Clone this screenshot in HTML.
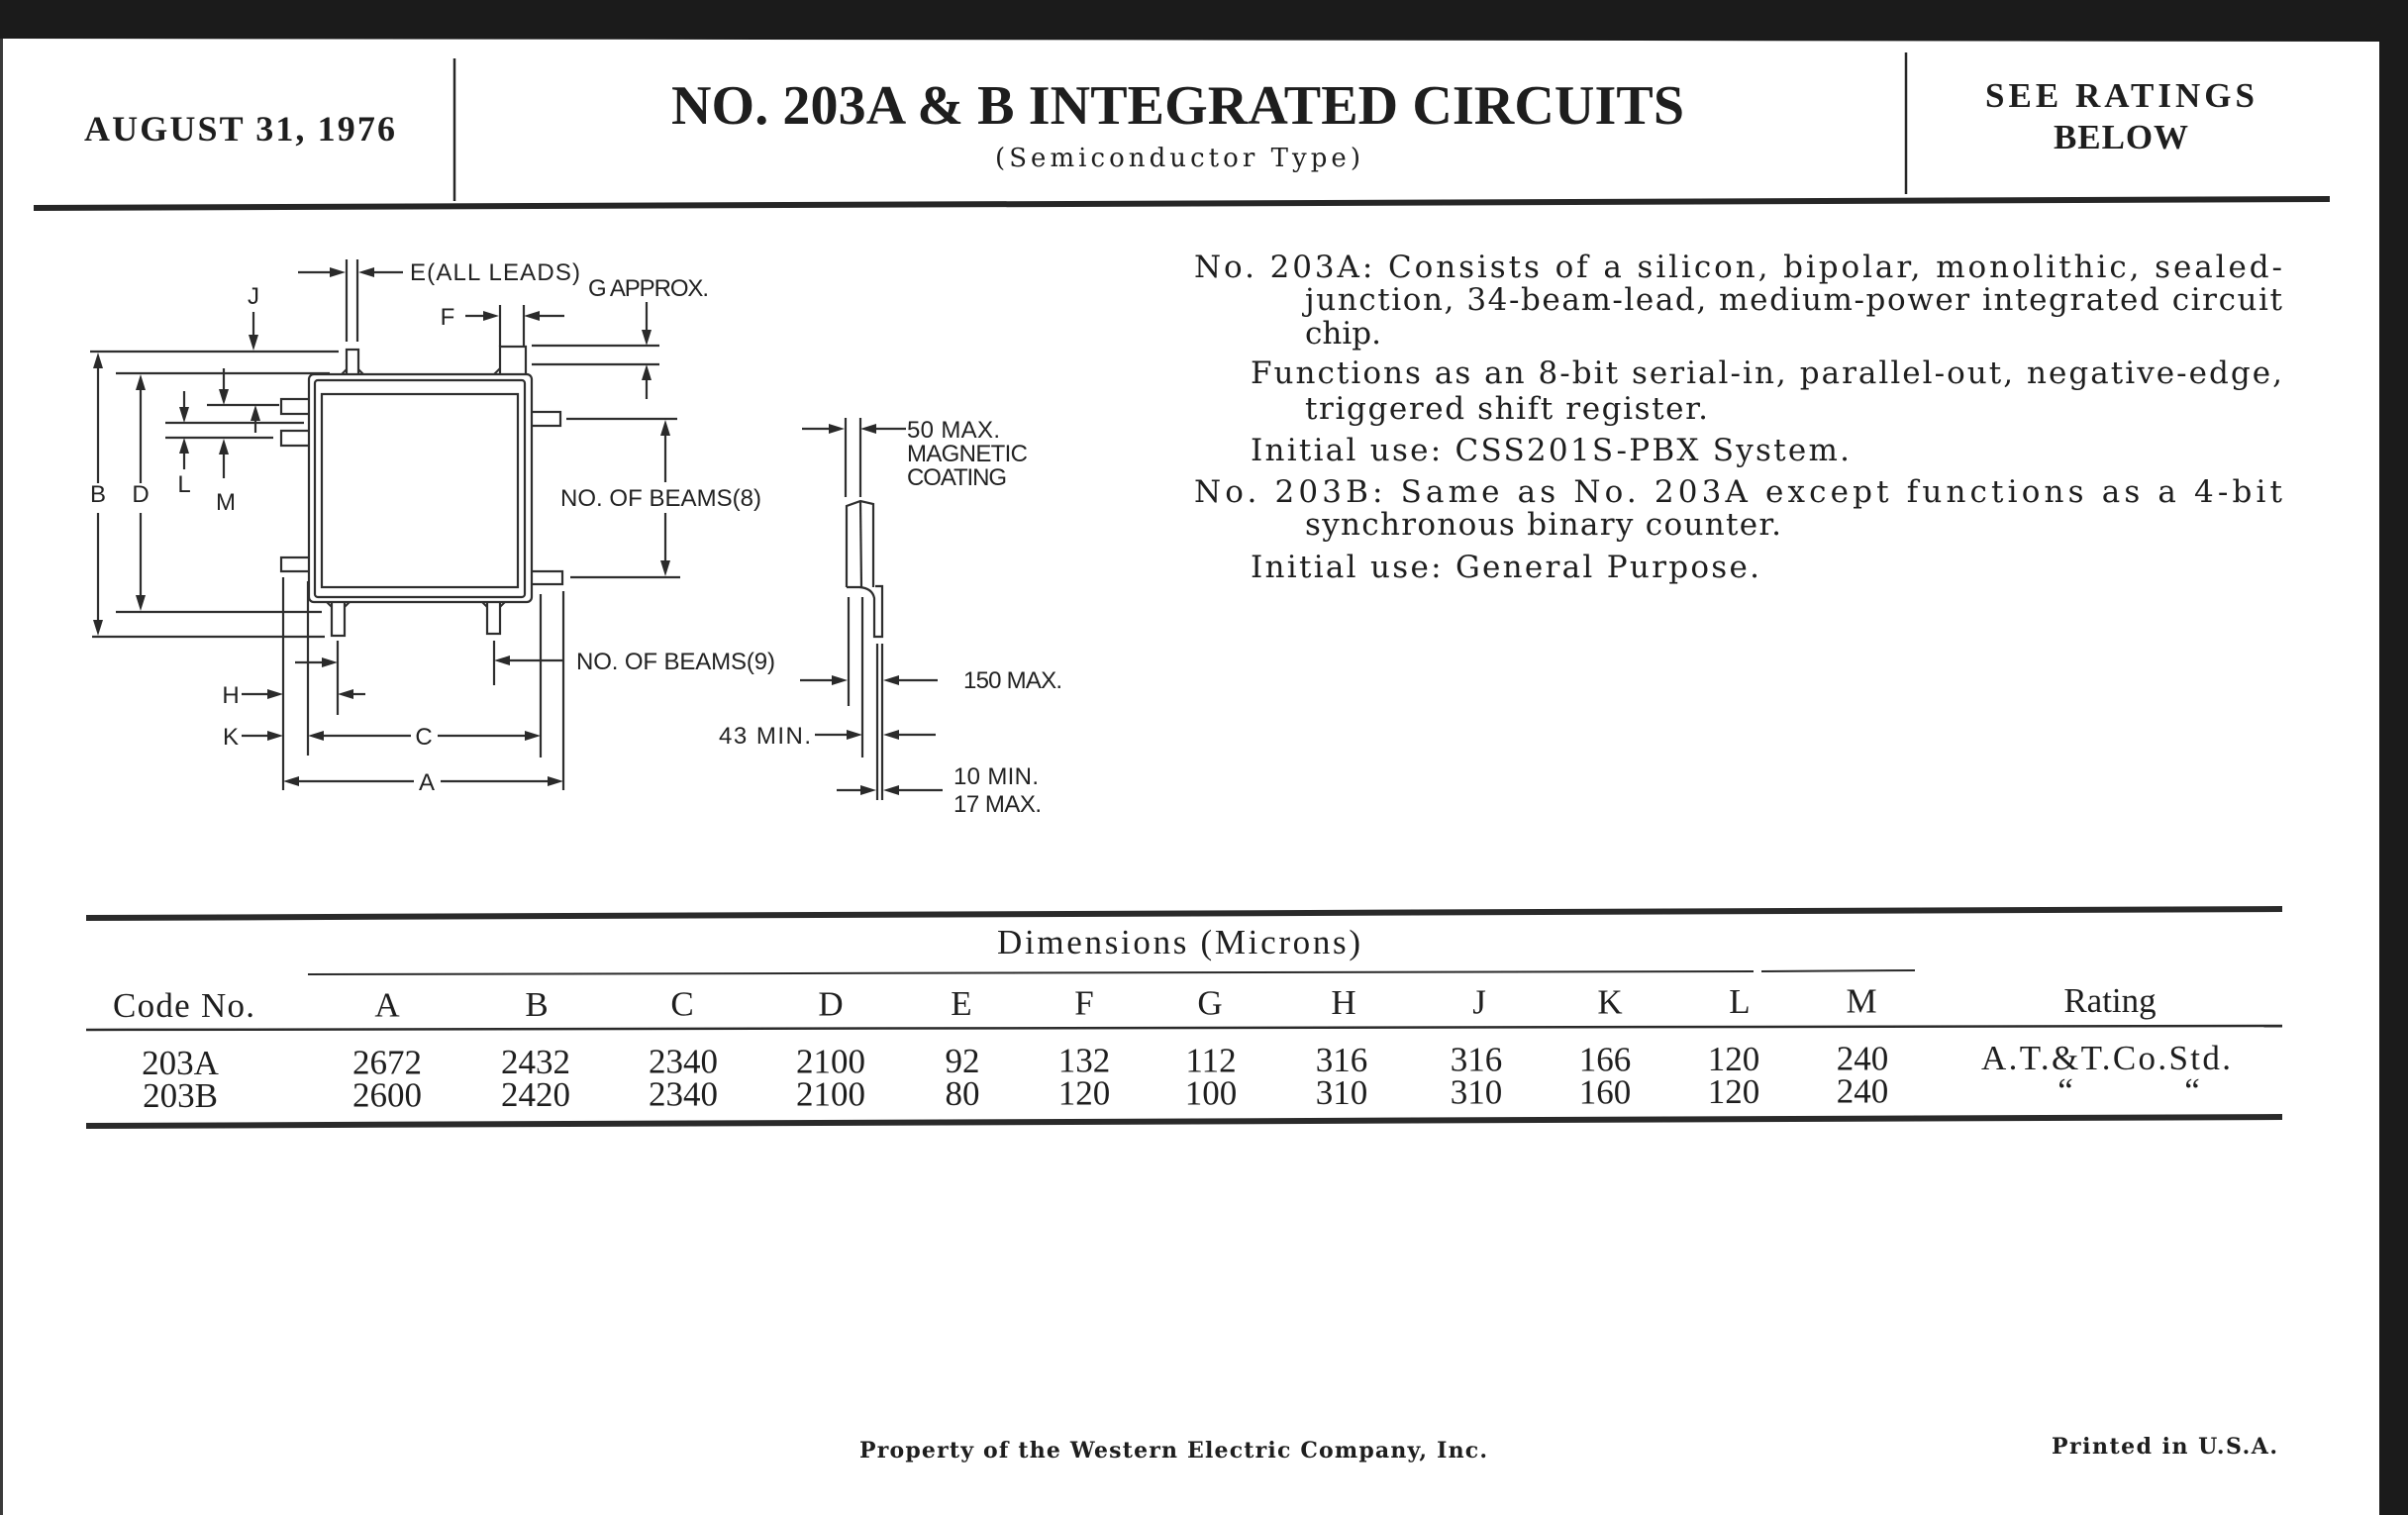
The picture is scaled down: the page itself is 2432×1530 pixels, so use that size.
<!DOCTYPE html>
<html>
<head>
<meta charset="utf-8">
<style>
html,body{margin:0;padding:0;width:2432px;height:1530px;overflow:hidden;background:#1b1b1b}
svg{display:block}
.serif{font-family:"Liberation Serif","DejaVu Serif",serif;fill:#1e1e1e}
.dserif{font-family:"DejaVu Serif","Liberation Serif",serif;fill:#1e1e1e}
.sans{font-family:"Liberation Sans","DejaVu Sans",sans-serif;fill:#222;font-size:24px}
.pre{white-space:pre}
</style>
</head>
<body>
<svg width="2432" height="1530" viewBox="0 0 2432 1530" xmlns="http://www.w3.org/2000/svg">
  <!-- background / page -->
  <rect x="0" y="0" width="2432" height="1530" fill="#1b1b1b"/>
  <polygon points="3,39 2403,42 2403,1530 3,1530" fill="#ffffff"/>
  <rect x="0" y="39" width="3" height="1491" fill="#3a3a3a"/>

  <!-- ================= HEADER ================= -->
  <g class="serif" font-weight="bold">
    <text x="85" y="142" font-size="36" textLength="314" lengthAdjust="spacing">AUGUST 31, 1976</text>
    <text x="678" y="125" font-size="56" textLength="1023" lengthAdjust="spacing">NO. 203A &amp; B INTEGRATED CIRCUITS</text>
    <text x="2005" y="108" font-size="35" textLength="272" lengthAdjust="spacing">SEE RATINGS</text>
    <text x="2074" y="150" font-size="35" textLength="136" lengthAdjust="spacing">BELOW</text>
  </g>
  <text class="dserif" x="1005" y="168" font-size="26" textLength="369" lengthAdjust="spacing">(Semiconductor Type)</text>
  <g stroke="#262626" fill="none">
    <line x1="459" y1="59" x2="459" y2="203" stroke-width="2.5"/>
    <line x1="1925" y1="53" x2="1925" y2="196" stroke-width="2.5"/>
    <line x1="34" y1="210" x2="2353" y2="201" stroke-width="6"/>
  </g>

  <!-- ================= DIAGRAM ================= -->
  <g stroke="#2e2e2e" stroke-width="2.2" fill="#fff">
    <rect x="350" y="353" width="12" height="28"/>
    <rect x="505" y="350" width="26" height="30"/>
    <rect x="284" y="403" width="31" height="15"/>
    <rect x="284" y="435" width="31" height="15"/>
    <rect x="284" y="563" width="31" height="14"/>
    <rect x="533" y="416" width="33" height="14"/>
    <rect x="533" y="577" width="35" height="13"/>
    <rect x="335" y="605" width="13" height="37"/>
    <rect x="492" y="605" width="13" height="35"/>
    <rect x="312" y="378" width="225" height="230" rx="5"/>
    <rect x="318" y="384" width="212" height="219" rx="3"/>
    <rect x="325" y="398" width="198" height="195"/>
  </g>
  <g stroke="#2e2e2e" stroke-width="2" fill="none">
    <path d="M345,378 L350,373 M362,373 L367,378"/>
    <path d="M499,378 L505,372 M531,372 L531,378"/>
    <path d="M330,608 L335,613 M348,613 L353,608"/>
    <path d="M487,608 L492,613 M505,613 L510,608"/>
  </g>

  <g stroke="#2e2e2e" stroke-width="2.2" fill="none">
    <line x1="91" y1="355" x2="342" y2="355"/>
    <line x1="93" y1="643" x2="328" y2="643"/>
    <line x1="99" y1="370" x2="99" y2="488"/>
    <line x1="99" y1="518" x2="99" y2="628"/>
    <line x1="117" y1="377" x2="333" y2="377"/>
    <line x1="117" y1="618" x2="325" y2="618"/>
    <line x1="142" y1="392" x2="142" y2="488"/>
    <line x1="142" y1="518" x2="142" y2="603"/>
    <line x1="256" y1="315" x2="256" y2="340"/>
    <line x1="209" y1="409" x2="282" y2="409"/>
    <line x1="167" y1="427" x2="307" y2="427"/>
    <line x1="167" y1="442" x2="276" y2="442"/>
    <line x1="226" y1="372" x2="226" y2="395"/>
    <line x1="258" y1="423" x2="258" y2="437"/>
    <line x1="186" y1="395" x2="186" y2="413"/>
    <line x1="186" y1="456" x2="186" y2="474"/>
    <line x1="226" y1="457" x2="226" y2="483"/>
    <line x1="350" y1="262" x2="350" y2="345"/>
    <line x1="361" y1="262" x2="361" y2="345"/>
    <line x1="301" y1="275" x2="335" y2="275"/>
    <line x1="376" y1="275" x2="407" y2="275"/>
    <line x1="653" y1="305" x2="653" y2="335"/>
    <line x1="537" y1="349" x2="666" y2="349"/>
    <line x1="537" y1="368" x2="666" y2="368"/>
    <line x1="653" y1="382" x2="653" y2="403"/>
    <line x1="470" y1="319" x2="490" y2="319"/>
    <line x1="505" y1="308" x2="505" y2="350"/>
    <line x1="529" y1="308" x2="529" y2="350"/>
    <line x1="543" y1="319" x2="570" y2="319"/>
    <line x1="572" y1="423" x2="684" y2="423"/>
    <line x1="576" y1="583" x2="687" y2="583"/>
    <line x1="672" y1="438" x2="672" y2="487"/>
    <line x1="672" y1="518" x2="672" y2="568"/>
    <line x1="286" y1="583" x2="286" y2="798"/>
    <line x1="311" y1="587" x2="311" y2="763"/>
    <line x1="341" y1="647" x2="341" y2="722"/>
    <line x1="499" y1="647" x2="499" y2="692"/>
    <line x1="546" y1="600" x2="546" y2="765"/>
    <line x1="569" y1="597" x2="569" y2="798"/>
    <line x1="513" y1="667" x2="569" y2="667"/>
    <line x1="298" y1="669" x2="327" y2="669"/>
    <line x1="244" y1="701" x2="272" y2="701"/>
    <line x1="355" y1="701" x2="369" y2="701"/>
    <line x1="244" y1="743" x2="272" y2="743"/>
    <line x1="325" y1="743" x2="415" y2="743"/>
    <line x1="442" y1="743" x2="532" y2="743"/>
    <line x1="300" y1="789" x2="418" y2="789"/>
    <line x1="445" y1="789" x2="555" y2="789"/>
    <line x1="810" y1="433" x2="839" y2="433"/>
    <line x1="883" y1="433" x2="915" y2="433"/>
    <line x1="854" y1="422" x2="854" y2="502"/>
    <line x1="869" y1="422" x2="869" y2="502"/>
    <path d="M855,593 L855,511 L869,506 L882,509 L882,593"/>
    <path d="M869,506 L870,593"/>
    <path d="M855,593 L868,593 Q881,594 883,604 L883,643 L891,643 L891,592 L884,592"/>
    <line x1="857" y1="603" x2="857" y2="713"/>
    <line x1="871" y1="603" x2="871" y2="765"/>
    <line x1="886" y1="650" x2="886" y2="808"/>
    <line x1="891" y1="650" x2="891" y2="808"/>
    <line x1="808" y1="687" x2="842" y2="687"/>
    <line x1="906" y1="687" x2="947" y2="687"/>
    <line x1="823" y1="742" x2="857" y2="742"/>
    <line x1="906" y1="742" x2="945" y2="742"/>
    <line x1="845" y1="798" x2="871" y2="798"/>
    <line x1="906" y1="798" x2="952" y2="798"/>
  </g>

  <g fill="#2a2a2a" stroke="none">
    <polygon points="99,356 94,372 104,372"/>
    <polygon points="99,642 94,626 104,626"/>
    <polygon points="142,378 137,394 147,394"/>
    <polygon points="142,617 137,601 147,601"/>
    <polygon points="256,354 251,338 261,338"/>
    <polygon points="226,409 221,393 231,393"/>
    <polygon points="258,409 253,425 263,425"/>
    <polygon points="186,427 181,411 191,411"/>
    <polygon points="186,442 181,458 191,458"/>
    <polygon points="226,443 221,459 231,459"/>
    <polygon points="349,275 333,270 333,280"/>
    <polygon points="362,275 378,270 378,280"/>
    <polygon points="653,349 648,333 658,333"/>
    <polygon points="653,368 648,384 658,384"/>
    <polygon points="504,319 488,314 488,324"/>
    <polygon points="529,319 545,314 545,324"/>
    <polygon points="672,424 667,440 677,440"/>
    <polygon points="672,582 667,566 677,566"/>
    <polygon points="499,667 515,662 515,672"/>
    <polygon points="341,669 325,664 325,674"/>
    <polygon points="286,701 270,696 270,706"/>
    <polygon points="341,701 357,696 357,706"/>
    <polygon points="286,743 270,738 270,748"/>
    <polygon points="311,743 327,738 327,748"/>
    <polygon points="546,743 530,738 530,748"/>
    <polygon points="286,789 302,784 302,794"/>
    <polygon points="569,789 553,784 553,794"/>
    <polygon points="853,433 837,428 837,438"/>
    <polygon points="869,433 885,428 885,438"/>
    <polygon points="856,687 840,682 840,692"/>
    <polygon points="892,687 908,682 908,692"/>
    <polygon points="871,742 855,737 855,747"/>
    <polygon points="892,742 908,737 908,747"/>
    <polygon points="885,798 869,793 869,803"/>
    <polygon points="892,798 908,793 908,803"/>
  </g>

  <g class="sans">
    <text x="414" y="283" textLength="172" lengthAdjust="spacing">E(ALL LEADS)</text>
    <text x="594" y="299" textLength="122" lengthAdjust="spacing">G APPROX.</text>
    <text x="256" y="307" text-anchor="middle">J</text>
    <text x="452" y="328" text-anchor="middle">F</text>
    <text x="99" y="507" text-anchor="middle">B</text>
    <text x="142" y="507" text-anchor="middle">D</text>
    <text x="186" y="497" text-anchor="middle">L</text>
    <text x="228" y="515" text-anchor="middle">M</text>
    <text x="566" y="511" textLength="203" lengthAdjust="spacing">NO. OF BEAMS(8)</text>
    <text x="582" y="676" textLength="201" lengthAdjust="spacing">NO. OF BEAMS(9)</text>
    <text x="233" y="710" text-anchor="middle">H</text>
    <text x="233" y="752" text-anchor="middle">K</text>
    <text x="428" y="752" text-anchor="middle">C</text>
    <text x="431" y="798" text-anchor="middle">A</text>
    <text x="916" y="442" textLength="94" lengthAdjust="spacing">50 MAX.</text>
    <text x="916" y="466" textLength="122" lengthAdjust="spacing">MAGNETIC</text>
    <text x="916" y="490" textLength="101" lengthAdjust="spacing">COATING</text>
    <text x="973" y="695" textLength="100" lengthAdjust="spacing">150 MAX.</text>
    <text x="726" y="751" textLength="93" lengthAdjust="spacing">43 MIN.</text>
    <text x="963" y="792" textLength="86" lengthAdjust="spacing">10 MIN.</text>
    <text x="963" y="820" textLength="89" lengthAdjust="spacing">17 MAX.</text>
  </g>

  <g class="dserif pre" font-size="31">
    <text x="1206" y="280" textLength="1099" lengthAdjust="spacing">No. 203A:  Consists of a silicon, bipolar, monolithic, sealed-</text>
    <text x="1318" y="313" textLength="987" lengthAdjust="spacing">junction, 34-beam-lead, medium-power integrated circuit</text>
    <text x="1318" y="347" textLength="77" lengthAdjust="spacing">chip.</text>
    <text x="1263" y="387" textLength="1042" lengthAdjust="spacing">Functions as an 8-bit serial-in, parallel-out, negative-edge,</text>
    <text x="1318" y="423" textLength="407" lengthAdjust="spacing">triggered shift register.</text>
    <text x="1263" y="465" textLength="605" lengthAdjust="spacing">Initial use:  CSS201S-PBX System.</text>
    <text x="1206" y="507" textLength="1099" lengthAdjust="spacing">No. 203B:  Same as No. 203A except functions as a 4-bit</text>
    <text x="1318" y="540" textLength="481" lengthAdjust="spacing">synchronous binary counter.</text>
    <text x="1263" y="583" textLength="514" lengthAdjust="spacing">Initial use:  General Purpose.</text>
  </g>

  <g stroke="#2a2a2a" fill="none">
    <line x1="87" y1="927" x2="2305" y2="918" stroke-width="6"/>
    <line x1="311" y1="984" x2="1771" y2="981" stroke-width="2"/>
    <line x1="1779" y1="981" x2="1934" y2="980" stroke-width="2"/>
    <line x1="87" y1="1040" x2="2305" y2="1036" stroke-width="2.5"/>
    <line x1="87" y1="1137" x2="2305" y2="1128" stroke-width="6"/>
  </g>
  <g class="serif" font-size="35">
    <text x="1007" y="963" textLength="367" lengthAdjust="spacing">Dimensions (Microns)</text>
    <text x="114" y="1027" textLength="143" lengthAdjust="spacing">Code No.</text>
    <g text-anchor="middle">
      <text x="391" y="1026.5">A</text>
      <text x="542" y="1026.1">B</text>
      <text x="689" y="1025.7">C</text>
      <text x="839" y="1025.3">D</text>
      <text x="971" y="1025">E</text>
      <text x="1095" y="1024.7">F</text>
      <text x="1222" y="1024.3">G</text>
      <text x="1357" y="1024">H</text>
      <text x="1494" y="1023.6">J</text>
      <text x="1626" y="1023.3">K</text>
      <text x="1757" y="1023">L</text>
      <text x="1880" y="1022.6">M</text>
      <text x="2131" y="1022">Rating</text>

      <text x="182" y="1085">203A</text>
      <text x="391" y="1084.5">2672</text>
      <text x="541" y="1084.1">2432</text>
      <text x="690" y="1083.7">2340</text>
      <text x="839" y="1083.3">2100</text>
      <text x="972" y="1083">92</text>
      <text x="1095" y="1082.7">132</text>
      <text x="1223" y="1082.3">112</text>
      <text x="1355" y="1082">316</text>
      <text x="1491" y="1081.6">316</text>
      <text x="1621" y="1081.3">166</text>
      <text x="1751" y="1081">120</text>
      <text x="1881" y="1080.6">240</text>
      <text x="2127" y="1080" textLength="252" lengthAdjust="spacing">A.T.&amp;T.Co.Std.</text>

      <text x="182" y="1118">203B</text>
      <text x="391" y="1117.5">2600</text>
      <text x="541" y="1117.1">2420</text>
      <text x="690" y="1116.7">2340</text>
      <text x="839" y="1116.3">2100</text>
      <text x="972" y="1116">80</text>
      <text x="1095" y="1115.7">120</text>
      <text x="1223" y="1115.3">100</text>
      <text x="1355" y="1115">310</text>
      <text x="1491" y="1114.6">310</text>
      <text x="1621" y="1114.3">160</text>
      <text x="1751" y="1114">120</text>
      <text x="1881" y="1113.6">240</text>
      <text x="2086" y="1113">“</text>
      <text x="2214" y="1113">“</text>
    </g>
  </g>

  <g class="dserif" font-weight="bold" font-size="22">
    <text x="868" y="1472" textLength="634" lengthAdjust="spacing">Property of the Western Electric Company, Inc.</text>
    <text x="2072" y="1468" textLength="228" lengthAdjust="spacing">Printed in U.S.A.</text>
  </g>
</svg>
</body>
</html>
